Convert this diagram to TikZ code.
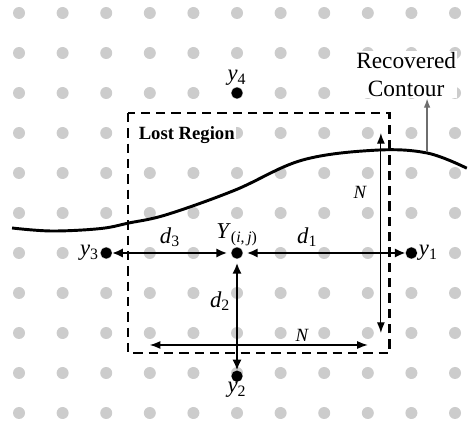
\documentclass[tikz,border=0pt]{standalone}
\usepackage{fontspec}
\setmainfont{Liberation Serif}
\usetikzlibrary{arrows.meta,positioning}
\definecolor{dotgray}{HTML}{CCCCCC}
\definecolor{tipgray}{HTML}{6E6E6E}
\newcommand{\var}[2]{\textit{#1}\textsubscript{#2}}
\tikzset{
  griddot/.style={circle,fill=dotgray,minimum size=9pt,inner sep=0pt},
  pixel/.style={circle,fill=black,minimum size=8.5pt,inner sep=0pt},
  dist/.style={{Latex[length=8pt,width=7pt]}-{Latex[length=8pt,width=7pt]},line width=1.5pt},
  span/.style={{Latex[length=8pt,width=6pt]}-{Latex[length=8pt,width=6pt]},line width=0.9pt},
  lost/.style={draw,line width=2.2pt,dash pattern=on 7pt off 4.5pt},
  contour/.style={line width=2.2pt},
  mlbl/.style={font=\fontsize{17}{20}\selectfont,inner sep=1pt},
  nlbl/.style={font=\fontsize{14}{16}\selectfont\itshape,inner sep=1pt},
  tag/.style={fill=white,inner sep=1pt,align=center},
}

\begin{document}
\begin{tikzpicture}[x=32.7pt,y=-30pt]
  \useasboundingbox (-0.436,-0.325) rectangle (10.344,10.2);
  % lattice of pixels
  \foreach \i in {0,...,10}
    \foreach \j in {0,...,10}
      \node[griddot] at (\i,\j) {};
  % lost region
  \draw[lost] (2.5,2.5) rectangle (8.5,8.5);
  \node[tag,font=\fontsize{14}{16}\selectfont\bfseries,anchor=base west] (lr) at (2.71,3.175) {Lost Region};
  % recovered contour
  \draw[contour] plot[smooth,tension=0.6] coordinates {(-0.16,5.375) (0.75,5.45) (1.86,5.39) (2.52,5.25) (3.39,5.04) (4.95,4.43) (6.49,3.68) (8.17,3.43) (9.36,3.5) (10.27,3.88)};
  \node[tag,font=\fontsize{17.5}{21}\selectfont] (rct) at (8.88,1.54) {Recovered\\Contour};
  \coordinate (rc) at (9.36,3.48);
  \draw[-{Latex[length=7pt,width=5pt]},tipgray,line width=1pt] (rc) -- (rc |- rct.south);
  % pixels
  \node[pixel] (Y) at (5,6) {};
  \node[pixel] (y1) at (9,6) {};
  \node[pixel] (y2) at (5,9.08) {};
  \node[pixel] (y3) at (2,6) {};
  \node[pixel] (y4) at (5,2) {};
  \node[mlbl,above=0pt of y4] {\var{y}{4}};
  \node[mlbl,left=0pt of y3] {\var{y}{3}};
  \node[mlbl,right=0pt of y1] {\var{y}{1}};
  \node[mlbl,below=-1pt of y2] {\var{y}{2}};
  \node[mlbl,above=0pt of Y] {\var{Y}{(\textit{i},\,\textit{j})}};
  % distances
  \foreach \p in {y1,y2,y3} \draw[dist,shorten <=3pt] (Y) -- (\p);
  \node[mlbl] at (3.46,5.6) {\var{d}{3}};
  \node[mlbl] at (6.61,5.6) {\var{d}{1}};
  \node[mlbl] at (4.61,7.2) {\var{d}{2}};
  % window size
  \coordinate (nv1) at (8.3,3);
  \coordinate (nv2) at (8.3,8);
  \coordinate (nh1) at (3,8.3);
  \coordinate (nh2) at (8,8.3);
  \draw[span] (nv1) -- (nv2);
  \draw[span] (nh1) -- (nh2);
  \node[nlbl] at (7.82,4.48) {N};
  \node[nlbl] at (6.49,8.05) {N};
\end{tikzpicture}
\end{document}
